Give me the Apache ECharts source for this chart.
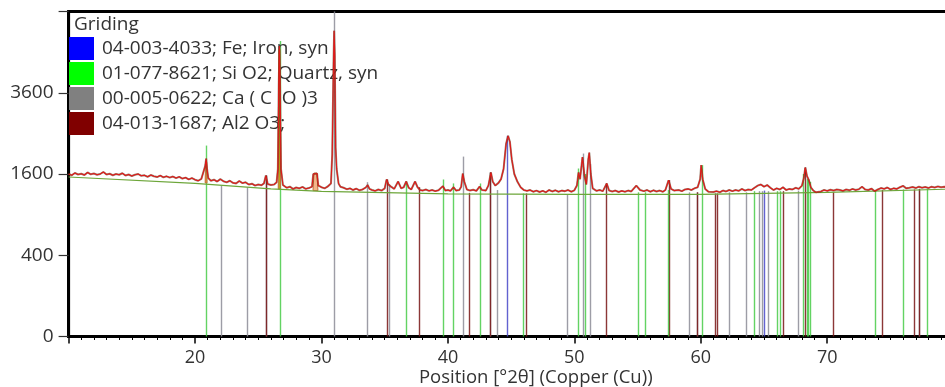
<!DOCTYPE html>
<html><head><meta charset="utf-8">
<script src="https://cdn.jsdelivr.net/npm/echarts@6/dist/echarts.min.js"></script>
<style>html,body{margin:0;padding:0;background:#fff}#c{width:945px;height:387px}</style>
</head><body><div id="c"></div><script>
const chartTitle = 'Griding';
const axisName = 'Position [°2θ] (Copper (Cu))';
const phaseNames = ['04-003-4033; Fe; Iron, syn', '01-077-8621; Si O2; Quartz, syn', '00-005-0622; Ca ( C  O )3', '04-013-1687; Al2 O3;'];
const yTickValues = [0, 400, 1600, 3600];

// observed pattern [2theta, counts]
const observed = [
[10.00,1600],[10.25,1575],[10.50,1620],[10.75,1590],[11.00,1605],[11.25,1580],[11.50,1630],[11.75,1595],[12.00,1610],[12.25,1585],
[12.50,1600],[12.75,1640],[13.00,1590],[13.25,1605],[13.50,1575],[13.75,1600],[14.00,1585],[14.25,1615],[14.50,1570],[14.75,1590],
[15.00,1560],[15.25,1585],[15.50,1600],[15.75,1565],[16.00,1575],[16.25,1545],[16.50,1580],[16.75,1555],[17.00,1540],[17.25,1570],
[17.50,1535],[17.75,1555],[18.00,1530],[18.25,1550],[18.50,1520],[18.75,1545],[19.00,1510],[19.25,1530],[19.50,1495],[19.75,1520],
[20.00,1490],[20.25,1470],[20.50,1505],[20.65,1520],[20.80,1760],[20.88,1918],[20.95,1700],[21.05,1520],[21.25,1470],[21.50,1490],
[21.75,1455],[22.00,1500],[22.25,1460],[22.50,1440],[22.75,1470],[23.00,1430],[23.25,1420],[23.50,1465],[23.75,1425],[24.00,1440],
[24.25,1400],[24.50,1415],[24.75,1380],[25.00,1400],[25.25,1385],[25.45,1420],[25.60,1570],[25.75,1410],[26.00,1390],[26.25,1400],
[26.45,1440],[26.55,1700],[26.62,3800],[26.67,5115],[26.72,3900],[26.80,1700],[26.95,1390],[27.25,1340],[27.50,1360],[27.75,1320],
[28.00,1345],[28.25,1330],[28.50,1355],[28.75,1320],[29.00,1335],[29.25,1360],[29.35,1600],[29.50,1617],[29.65,1610],[29.75,1380],
[30.00,1350],[30.25,1330],[30.50,1365],[30.75,1420],[30.85,2000],[30.95,4500],[31.00,5660],[31.05,4800],[31.12,2160],[31.20,1700],
[31.35,1420],[31.50,1360],[31.75,1340],[32.00,1315],[32.25,1330],[32.50,1300],[32.75,1325],[33.00,1295],[33.25,1310],[33.50,1345],
[33.65,1390],[33.80,1320],[34.00,1300],[34.25,1285],[34.50,1310],[34.75,1290],[35.00,1330],[35.15,1494],[35.30,1400],[35.50,1360],
[35.75,1320],[36.06,1456],[36.30,1330],[36.50,1350],[36.70,1456],[36.90,1340],[37.10,1310],[37.40,1456],[37.60,1350],[37.80,1300],
[38.00,1290],[38.25,1310],[38.50,1285],[38.75,1300],[39.00,1280],[39.25,1295],[39.60,1370],[39.80,1290],[40.00,1300],[40.20,1285],
[40.45,1350],[40.65,1290],[40.90,1300],[41.05,1360],[41.17,1609],[41.30,1450],[41.50,1310],[41.75,1290],[42.00,1305],[42.25,1285],
[42.50,1360],[42.70,1300],[43.00,1290],[43.20,1380],[43.40,1630],[43.55,1450],[43.75,1380],[44.00,1430],[44.20,1500],[44.40,1700],
[44.60,2250],[44.76,2440],[44.90,2300],[45.05,1900],[45.25,1600],[45.50,1450],[45.75,1350],[46.00,1300],[46.25,1285],[46.50,1300],
[46.75,1270],[47.00,1290],[47.25,1265],[47.50,1285],[47.75,1260],[48.00,1300],[48.25,1275],[48.50,1295],[48.75,1270],[49.00,1290],
[49.25,1280],[49.50,1300],[49.75,1270],[50.00,1295],[50.20,1380],[50.33,1630],[50.45,1500],[50.64,1950],[50.80,1560],[50.95,1400],
[51.10,1900],[51.18,2050],[51.30,1600],[51.45,1330],[51.75,1285],[52.00,1300],[52.25,1280],[52.56,1419],[52.75,1290],[53.00,1275],
[53.25,1290],[53.50,1265],[53.75,1285],[54.00,1270],[54.25,1290],[54.50,1275],[54.90,1380],[55.20,1300],[55.50,1280],[55.75,1300],
[56.00,1270],[56.25,1295],[56.50,1275],[56.75,1290],[57.00,1270],[57.20,1300],[57.45,1480],[57.65,1320],[57.90,1290],[58.25,1300],
[58.50,1280],[58.75,1310],[59.00,1320],[59.25,1300],[59.50,1330],[59.75,1350],[59.95,1500],[60.03,1780],[60.15,1500],[60.35,1320],
[60.60,1270],[60.75,1290],[61.00,1265],[61.25,1280],[61.50,1260],[61.75,1290],[62.00,1275],[62.25,1300],[62.50,1280],[62.75,1300],
[63.00,1285],[63.25,1320],[63.50,1290],[63.75,1310],[64.00,1300],[64.25,1340],[64.50,1380],[64.75,1400],[65.00,1360],[65.25,1390],
[65.50,1340],[65.75,1300],[66.00,1330],[66.25,1310],[66.50,1350],[66.75,1300],[67.00,1320],[67.25,1310],[67.50,1340],[67.75,1320],
[68.00,1380],[68.15,1520],[68.26,1730],[68.40,1560],[68.55,1480],[68.70,1350],[68.90,1290],[69.10,1260],[69.25,1290],[69.50,1275],
[69.75,1300],[70.00,1285],[70.25,1305],[70.50,1290],[70.75,1310],[71.00,1300],[71.25,1285],[71.50,1310],[71.75,1295],[72.00,1320],
[72.25,1300],[72.50,1315],[72.75,1360],[73.00,1310],[73.25,1300],[73.50,1325],[73.75,1280],[74.00,1310],[74.25,1335],[74.50,1320],
[74.75,1345],[75.00,1310],[75.25,1330],[75.50,1320],[75.75,1350],[76.00,1375],[76.25,1330],[76.50,1340],[76.75,1355],[77.00,1335],
[77.25,1360],[77.50,1340],[77.75,1355],[78.00,1335],[78.25,1360],[78.50,1345],[78.75,1365],[79.00,1350],[79.25,1360],[79.50,1345],[80.00,1355]
];
const background = [[10,1541],[20,1419],[26,1319],[30,1275],[40,1231],[50,1223],[60,1223],[70,1257],[80,1318]];

// reference sticks [2theta, top counts]
const ironSticks = [[44.66,2440],[65.02,1290]];
const quartzSticks = [[20.85,2209],[26.70,5295],[36.67,1456],[39.60,1494],[40.43,1420],[42.57,1419],[45.93,1240],[50.32,1710],[50.85,1600],
  [55.07,1260],[55.55,1260],[57.40,1300],[60.09,1780],[64.23,1280],[66.02,1280],[66.23,1280],[68.12,1600],[68.39,1500],[68.50,1500],[68.60,1450],
  [73.80,1300],[76.01,1310],[77.89,1320]];
const calciteSticks = [[22.06,1380],[24.11,1350],[25.62,1570],[31.00,6400],[33.63,1443],[35.37,1400],[41.23,1961],[43.34,1630],[43.92,1300],[49.41,1230],
  [50.67,2028],[51.25,1800],[59.10,1260],[59.69,1260],[62.25,1260],[63.57,1260],[64.64,1280],[64.83,1280],[65.33,1280],[67.65,1290],[77.25,1320]];
const aluminaSticks = [[25.62,1570],[35.17,1494],[37.75,1350],[41.68,1250],[43.34,1630],[46.16,1240],[52.52,1419],[57.45,1480],[59.69,1260],
  [61.14,1240],[61.32,1240],[66.52,1280],[68.26,1730],[70.42,1260],[74.33,1300],[76.83,1310],[77.25,1320]];

// fitted peak areas [start, end, top, base]
const fitAreas = [[29.33,29.72,1617,1290],[26.58,26.76,5000,1320],[20.80,20.95,1850,1430]];

const sq = v => Math.sqrt(v);
const chart = echarts.init(document.getElementById('c'), null, {renderer:'canvas'});
const FONT = '"Open Sans", "Noto Sans", sans-serif';

function stickSeries(name, data, legendColor, strokeColor, z) {
  return {
    type: 'custom', name: name, z: z,
    itemStyle: {color: legendColor},
    data: data.map(d => [d[0], sq(d[1])]),
    encode: {x: 0, y: 1},
    renderItem: function(params, api) {
      const p0 = api.coord([api.value(0), 0]);
      const p1 = api.coord([api.value(0), api.value(1)]);
      const x = Math.round(p0[0]) + 0.5;
      return {type: 'line', shape: {x1: x, y1: p0[1], x2: x, y2: p1[1]},
        style: {stroke: strokeColor, lineWidth: 1.4}};
    }
  };
}

const fillColors = ['#f4b48a', '#b8a818', '#e59a3a'];
const option = {
  animation: false,
  backgroundColor: '#fff',
  title: {text: chartTitle, left: 74, top: 15, padding: 0,
    textStyle: {fontFamily: FONT, fontSize: 19, fontWeight: 'normal', color: '#333'}},
  legend: {
    data: phaseNames, orient: 'vertical', left: 69, top: 37, padding: 0,
    itemWidth: 25, itemHeight: 23, itemGap: 2, icon: 'rect', selectedMode: false,
    textStyle: {fontFamily: FONT, fontSize: 19, color: '#333', padding: [2, 0, 0, 3]}
  },
  grid: {left: 68.6, right: -58, top: 11.5, bottom: 50.5, containLabel: false, outerBoundsMode: 'none',
    show: true, borderColor: '#000', borderWidth: 3},
  xAxis: {
    type: 'value', min: 10, max: 83.9, interval: 10,
    name: axisName, nameLocation: 'middle', nameGap: 32, nameMoveOverlap: false,
    nameTextStyle: {fontFamily: FONT, fontSize: 18.5, color: '#333'},
    axisLine: {lineStyle: {color: '#000', width: 3}},
    axisTick: {length: 7, lineStyle: {color: '#000', width: 1.5}},
    minorTick: {show: true, splitNumber: 10, length: 3.5, lineStyle: {color: '#000', width: 1}},
    axisLabel: {fontFamily: FONT, fontSize: 18, color: '#333', margin: 12,
      formatter: v => (v <= 10 || v >= 80) ? '' : String(v)},
    splitLine: {show: false}
  },
  yAxis: {
    type: 'value', min: 0, max: 80, interval: 20,
    axisLine: {show: true, lineStyle: {color: '#000', width: 3}},
    axisTick: {show: true, length: 10, lineStyle: {color: '#333', width: 1.2}},
    axisLabel: {fontFamily: FONT, fontSize: 19, color: '#333', margin: 15,
      formatter: v => { const c = Math.round(v * v); return yTickValues.indexOf(c) >= 0 ? String(c) : ''; }},
    splitLine: {show: false}
  },
  series: [
    stickSeries(phaseNames[2], calciteSticks, '#808080', 'rgba(140,140,150,0.85)', 2),
    stickSeries(phaseNames[3], aluminaSticks, '#800000', 'rgba(120,20,20,0.85)', 2),
    stickSeries(phaseNames[1], quartzSticks, '#00ff00', 'rgba(60,200,60,0.8)', 3),
    stickSeries(phaseNames[0], ironSticks, '#0000ff', 'rgba(70,70,200,0.85)', 3),
    {
      type: 'custom', name: 'fits', z: 4,
      data: fitAreas.map((d, i) => [d[0], d[1], sq(d[2]), sq(d[3]), i]),
      renderItem: function(params, api) {
        const a = api.value(0), b = api.value(1), t = api.value(2), bs = api.value(3), i = api.value(4);
        const d = (b - a) * 0.2;
        const pts = [api.coord([a, bs]), api.coord([a + d, t]), api.coord([b - d, t]), api.coord([b, bs])];
        return {type: 'polygon', shape: {points: pts},
          style: {fill: fillColors[i], stroke: '#c0703a', lineWidth: 1}};
      }
    },
    {
      type: 'line', name: 'bg', z: 5, showSymbol: false, silent: true,
      data: background.map(d => [d[0], sq(d[1])]),
      lineStyle: {color: '#6da63a', width: 1.2}
    },
    {
      type: 'line', name: 'obsShadow', z: 6, showSymbol: false, silent: true,
      data: observed.map(d => [d[0], sq(d[1])]),
      lineStyle: {color: '#5a3418', width: 2, opacity: 0.6}
    },
    {
      type: 'line', name: 'obs', z: 7, showSymbol: false, silent: true,
      data: observed.map(d => [d[0], sq(d[1])]),
      lineStyle: {color: '#e01818', width: 1.1}
    }
  ]
};
chart.setOption(option);
</script></body></html>
